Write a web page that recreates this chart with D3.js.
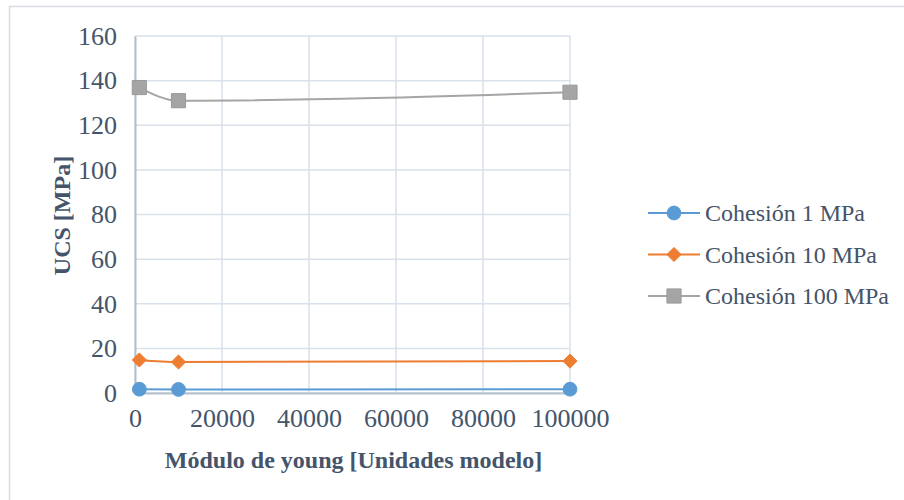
<!DOCTYPE html>
<html>
<head>
<meta charset="utf-8">
<script src="https://cdn.jsdelivr.net/npm/d3@7"></script>
<style>
  html, body { margin: 0; padding: 0; background: #fff; }
  svg { display: block; }
  text { font-family: "Liberation Serif", "Times New Roman", serif; fill: #44546a; }
</style>
</head>
<body>
<svg id="chart" width="904" height="500"></svg>
<script>
// Young's modulus (model units) and the resulting UCS for each cohesion level
const modulus = [1000, 10000, 100000];
const seriesNames = ["Cohesión 1 MPa", "Cohesión 10 MPa", "Cohesión 100 MPa"];
const ucsCoh1 = [1.7, 1.6, 1.7];
const ucsCoh10 = [14.8, 13.9, 14.3];
const ucsCoh100 = [136.9, 131.0, 134.8];
const xTicks = [0, 20000, 40000, 60000, 80000, 100000];
const yTicks = [0, 20, 40, 60, 80, 100, 120, 140, 160];
const colors = ["#5b9bd5", "#ed7d31", "#a5a5a5"];
const markers = ["circle", "diamond", "square"];

const series = [ucsCoh1, ucsCoh10, ucsCoh100].map((vals, i) => ({
  name: seriesNames[i], color: colors[i], marker: markers[i],
  points: vals.map((v, j) => ({ x: modulus[j], y: v }))
}));

const svg = d3.select("#chart");

// chart frame
svg.append("rect").attr("x", 9.5).attr("y", 6.5).attr("width", 1000).attr("height", 1000)
  .attr("fill", "none").attr("stroke", "#d9dde3").attr("stroke-width", 1.5);

const plot = { left: 135, right: 570, top: 36, bottom: 393 };
const x = d3.scaleLinear().domain([0, 100000]).range([plot.left, plot.right]);
const y = d3.scaleLinear().domain([0, 160]).range([plot.bottom, plot.top]);

// gridlines
const grid = svg.append("g");
grid.selectAll("line.h").data(yTicks).join("line")
  .attr("x1", plot.left).attr("x2", plot.right)
  .attr("y1", d => y(d)).attr("y2", d => y(d))
  .attr("stroke", "#d9e1ea").attr("stroke-width", 1.5);
grid.selectAll("line.v").data(xTicks).join("line")
  .attr("y1", plot.top).attr("y2", plot.bottom)
  .attr("x1", d => x(d)).attr("x2", d => x(d))
  .attr("stroke", "#d9e1ea").attr("stroke-width", 1.5);

// axes
const xAxis = svg.append("g").attr("transform", `translate(0,${plot.bottom})`)
  .call(d3.axisBottom(x).tickValues(xTicks).tickSize(0).tickPadding(17).tickFormat(d3.format("d")));
const yAxis = svg.append("g").attr("transform", `translate(${plot.left},0)`)
  .call(d3.axisLeft(y).tickValues(yTicks).tickSize(0).tickPadding(18));
[xAxis, yAxis].forEach(a => {
  a.select(".domain").attr("stroke", "#b4bfcc").attr("stroke-width", 2);
  a.selectAll("text").style("font-size", "26px").attr("fill", "#44546a")
    .style("font-family", '"Liberation Serif", serif');
});
xAxis.selectAll("text").attr("dy", "0.66em");

// axis titles
svg.append("text").attr("x", (plot.left + plot.right) / 2 + 1).attr("y", 468)
  .attr("text-anchor", "middle").style("font-size", "24px").style("font-weight", "bold")
  .text("Módulo de young [Unidades modelo]");
svg.append("text").attr("transform", `translate(70,${(plot.top + plot.bottom) / 2 + 1}) rotate(-90)`)
  .attr("text-anchor", "middle").style("font-size", "24px").style("font-weight", "bold")
  .text("UCS [MPa]");

// series lines (smoothed)
const line = d3.line().x(d => x(d.x)).y(d => y(d.y)).curve(d3.curveMonotoneX);
const diamond = {
  draw(ctx, size) {
    const r = Math.sqrt(size) / 2 * 1.35;
    ctx.moveTo(0, -r); ctx.lineTo(r, 0); ctx.lineTo(0, r); ctx.lineTo(-r, 0); ctx.closePath();
  }
};
const symbolOf = { circle: d3.symbolCircle, diamond: diamond, square: d3.symbolSquare };
const sizeOf = { circle: 150, diamond: 110, square: 200 };

series.forEach(s => {
  svg.append("path").datum(s.points).attr("d", line)
    .attr("fill", "none").attr("stroke", s.color).attr("stroke-width", 2);
  svg.append("g").selectAll("path").data(s.points).join("path")
    .attr("transform", d => `translate(${x(d.x)},${y(d.y)})`)
    .attr("d", d3.symbol().type(symbolOf[s.marker]).size(sizeOf[s.marker]))
    .attr("fill", s.color).attr("stroke", s.marker === "square" ? "#999" : s.color).attr("stroke-width", 1);
});

// legend
const legend = svg.append("g");
series.forEach((s, i) => {
  const ly = 213 + i * 41.5;
  legend.append("line").attr("x1", 648).attr("x2", 700).attr("y1", ly).attr("y2", ly)
    .attr("stroke", s.color).attr("stroke-width", 2);
  legend.append("path").attr("transform", `translate(674,${ly})`)
    .attr("d", d3.symbol().type(symbolOf[s.marker]).size(sizeOf[s.marker]))
    .attr("fill", s.color).attr("stroke", s.marker === "square" ? "#999" : s.color);
  legend.append("text").attr("x", 705).attr("y", ly).attr("dy", "0.35em")
    .style("font-size", "24px").text(s.name);
});
</script>
</body>
</html>
